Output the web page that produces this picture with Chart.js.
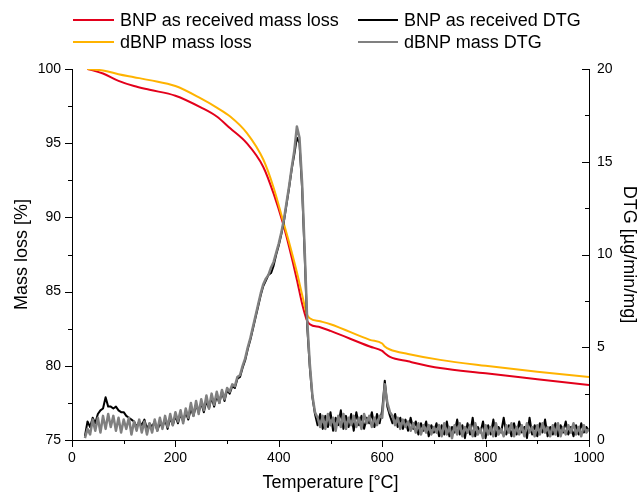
<!DOCTYPE html>
<html>
<head>
<meta charset="utf-8">
<script src="https://cdn.jsdelivr.net/npm/chart.js@4.4.1/dist/chart.umd.min.js"></script>
<style>
  html, body { margin: 0; padding: 0; background: #fff; }
  #wrap { position: relative; width: 638px; height: 495px; }
  #chart { position: absolute; left: 0; top: 0; }
  .leg { position: absolute; font: 18px "Liberation Sans", Arial, sans-serif; color: #000; line-height: 20px; white-space: nowrap; }
  .sw { position: absolute; height: 2px; }
</style>
</head>
<body>
<div id="wrap">
  <canvas id="chart" width="638" height="495"></canvas>
  <div id="legend"></div>
</div>
<script>
// temperature grid of the mass curves
const massTemps = [30, 60, 90, 120, 150, 200, 250, 280, 306, 338, 370, 390, 408, 420, 435, 445, 454, 460, 480, 500, 576, 600, 605, 615, 650, 712, 800, 900, 1000];
const bnpMass = [100, 99.7, 99.2, 98.85, 98.6, 98.2, 97.4, 96.8, 96.0, 95.0, 93.4, 91.6, 89.6, 88.0, 85.8, 84.2, 83.1, 82.8, 82.6, 82.35, 81.3, 81.0, 80.85, 80.6, 80.3, 79.85, 79.5, 79.1, 78.7];
const dbnpMass = [100, 99.9, 99.65, 99.45, 99.25, 98.85, 98.0, 97.4, 96.8, 95.7, 93.9, 92.0, 89.8, 88.3, 86.3, 84.8, 83.5, 83.2, 83.0, 82.8, 81.75, 81.5, 81.3, 81.1, 80.8, 80.4, 80.0, 79.6, 79.25];

// DTG read every 5 °C, from 25 to 1000 °C
const dtgStart = 25;
const dtgStep = 5;
const bnpDtg = [
  0.2, 1.0, 0.7, 1.2, 0.9, 1.4, 1.6, 1.7, 2.3, 1.8, 1.8, 1.7, 1.8, 1.6, 1.5, 1.5, 1.3, 1.2, 1.1, 1.0,
  0.7, 1.0, 0.8, 1.1, 0.6, 0.9, 0.7, 1.0, 0.5, 0.9, 0.7, 1.1, 0.6, 1.2, 0.8, 1.3,
  0.9, 1.4, 1.0, 1.5, 1.1, 1.7, 1.3, 1.9, 1.5, 2.0, 1.5, 2.1, 1.7, 2.3, 1.8, 2.4, 2.0, 2.6, 2.1, 2.7,
  2.5, 2.9, 2.8, 3.3, 3.4, 3.9, 4.3, 4.9, 5.4, 6.0, 6.6, 7.2, 7.8, 8.3, 8.6, 8.9, 9.0, 9.4, 10.0, 10.5,
  11.1, 11.8, 12.7, 13.6, 14.6, 15.4, 16.3, 16.0, 13.6, 10.0, 6.1, 3.9, 2.3, 1.4,
  0.8, 1.4, 0.6, 1.3, 0.7, 1.5, 0.5, 1.2, 0.8, 1.6, 0.6, 1.3, 0.7, 1.4, 0.5, 1.5, 0.8, 1.3, 0.6, 1.2,
  0.9, 1.5, 0.7, 1.4, 0.9, 1.6,
  3.2, 1.8, 1.3,
  0.9, 1.4, 0.7, 1.2, 0.6, 1.1, 0.5, 1.2, 0.6, 1.0, 0.3, 0.9, 0.5, 1.0, 0.2, 0.8, 0.4,
  0.9, 0.2, 0.8, 0.3, 1.0, 0.2, 0.7, 0.4, 1.1, 0.3, 0.8, 0.1, 0.9, 0.3, 1.2, 0.2, 0.7, 0.4, 1.0, 0.1,
  0.8, 0.3, 1.1, 0.2, 0.7, 0.4, 1.2, 0.3, 0.8, 0.2, 0.9, 0.3, 1.0, 0.4, 0.7, 0.1, 1.2, 0.3, 0.8, 0.2,
  0.9, 0.4, 1.1, 0.2, 0.7, 0.3, 0.9, 0.2, 0.8, 0.4, 1.0, 0.3, 0.7, 0.2, 0.8, 0.3, 0.9, 0.4, 0.7, 0.5
];
const dbnpDtg = [
  0.1, 0.6, 0.3, 1.1, 0.5, 1.2, 0.4, 1.3, 0.6, 1.4, 0.7, 1.3, 0.5, 1.2, 0.4, 1.1, 0.6, 1.2, 0.3, 1.0,
  0.5, 1.1, 0.4, 1.0, 0.3, 0.9, 0.4, 1.1, 0.5, 1.2, 0.6, 1.3, 0.7, 1.4, 0.8, 1.5,
  1.0, 1.6, 0.9, 1.7, 1.2, 2.0, 1.3, 2.1, 1.4, 2.2, 1.6, 2.4, 1.7, 2.5, 1.9, 2.6, 2.0, 2.7, 2.2, 2.8,
  2.6, 3.0, 2.9, 3.4, 3.5, 4.0, 4.4, 5.0, 5.5, 6.1, 6.7, 7.3, 7.9, 8.4, 8.7, 8.9, 9.3, 9.6, 10.1, 10.6,
  11.2, 11.9, 12.8, 13.7, 14.7, 15.6, 16.9, 16.3, 13.9, 10.3, 6.4, 4.1, 2.4, 1.5,
  1.2, 0.7, 1.3, 0.6, 1.4, 0.8, 1.2, 0.5, 1.3, 0.7, 1.4, 0.6, 1.2, 0.8, 1.3, 0.7, 1.2, 0.6, 1.4, 0.9,
  1.3, 0.7, 1.2, 0.8, 1.3, 1.2,
  3.0, 2.0, 1.5,
  1.3, 0.8, 1.2, 0.6, 1.1, 0.7, 1.0, 0.5, 0.9, 0.4, 0.9, 0.3, 0.8, 0.4, 0.8, 0.3, 0.7,
  0.4, 0.8, 0.2, 0.9, 0.3, 0.7, 0.1, 0.8, 0.3, 0.9, 0.2, 0.7, 0.4, 0.8, 0.2, 0.9, 0.3, 0.6, 0.1, 0.8,
  0.3, 0.7, 0.2, 0.9, 0.3, 0.6, 0.2, 0.8, 0.4, 0.9, 0.2, 0.7, 0.3, 0.8, 0.2, 0.9, 0.4, 0.7, 0.2, 0.8,
  0.3, 0.9, 0.4, 0.7, 0.2, 0.8, 0.3, 0.9, 0.2, 0.7, 0.3, 0.8, 0.4, 0.9, 0.3, 0.7, 0.2, 0.8, 0.4, 0.6
];

const seriesNames = ["BNP as received mass loss", "dBNP mass loss", "BNP as received DTG", "dBNP mass DTG"];
const seriesColors = ["#e3001b", "#ffb300", "#000000", "#808080"];

const xLabels = [0, 200, 400, 600, 800, 1000];
const massLabels = [75, 80, 85, 90, 95, 100];
const dtgLabels = [0, 5, 10, 15, 20];

const fontFam = '"Liberation Sans", Arial, sans-serif';

function pairs(xs, ys) {
  return ys.map((y, i) => ({ x: xs[i], y: y }));
}
function dtgPairs(ys) {
  return ys.map((y, i) => ({ x: dtgStart + i * dtgStep, y: y }));
}

// draws the tick marks: long ones where there is a label, short ones between
const tickMarks = {
  id: "tickMarks",
  afterDraw(chart) {
    const ctx = chart.ctx;
    ctx.save();
    ctx.strokeStyle = "#000";
    ctx.lineWidth = 1;
    for (const id of ["x", "y", "y2"]) {
      const sc = chart.scales[id];
      let labels = id == "x" ? xLabels : id == "y" ? massLabels : dtgLabels;
      sc.ticks.forEach((t) => {
        const p = Math.round(sc.getPixelForValue(t.value)) + 0.5;
        const len = labels.includes(t.value) ? 7 : 4;
        ctx.beginPath();
        if (id == "x") {
          ctx.moveTo(p, sc.top);
          ctx.lineTo(p, sc.top + len);
        } else if (id == "y") {
          ctx.moveTo(sc.right, p);
          ctx.lineTo(sc.right - len, p);
        } else {
          ctx.moveTo(sc.left, p);
          ctx.lineTo(sc.left - len, p);
        }
        ctx.stroke();
      });
    }
    ctx.restore();
  },
};

const axisGrid = { drawOnChartArea: false, drawTicks: false };
const axisBorder = { display: true, color: "#000", width: 1 };

const config = {
  type: "line",
  data: {
    datasets: [
      { label: seriesNames[0], data: pairs(massTemps, bnpMass), borderColor: seriesColors[0], borderWidth: 2, yAxisID: "y", order: 3, cubicInterpolationMode: "monotone" },
      { label: seriesNames[1], data: pairs(massTemps, dbnpMass), borderColor: seriesColors[1], borderWidth: 2, yAxisID: "y", order: 2, cubicInterpolationMode: "monotone" },
      { label: seriesNames[2], data: dtgPairs(bnpDtg), borderColor: seriesColors[2], borderWidth: 2, yAxisID: "y2", order: 1 },
      { label: seriesNames[3], data: dtgPairs(dbnpDtg), borderColor: seriesColors[3], borderWidth: 2.5, yAxisID: "y2", order: 0 },
    ],
  },
  options: {
    responsive: false,
    animation: false,
    elements: { point: { radius: 0 }, line: { borderJoinStyle: "round" } },
    layout: { padding: { top: 69, left: 0, right: 0, bottom: 0 } },
    plugins: { legend: { display: false }, tooltip: { enabled: false } },
    scales: {
      x: {
        type: "linear",
        min: 0,
        max: 1000,
        grid: axisGrid,
        border: axisBorder,
        ticks: {
          stepSize: 100,
          autoSkip: false,
          maxRotation: 0,
          padding: 10,
          color: "#000",
          font: { family: fontFam, size: 14 },
          callback: (v) => (xLabels.includes(v) ? v : ""),
        },
        title: { display: true, text: "Temperature [°C]", color: "#000", font: { family: fontFam, size: 18, lineHeight: 1 }, padding: { top: 0, bottom: 3 } },
        afterFit(sc) { sc.height = 55; },
      },
      y: {
        position: "left",
        min: 75,
        max: 100,
        grid: axisGrid,
        border: axisBorder,
        ticks: {
          stepSize: 2.5,
          autoSkip: false,
          padding: 11,
          color: "#000",
          font: { family: fontFam, size: 14 },
          callback: (v) => (massLabels.includes(v) ? v : ""),
        },
        title: { display: true, text: "Mass loss [%]", color: "#000", font: { family: fontFam, size: 18, lineHeight: 1 }, padding: { top: 13, bottom: 0 } },
        afterFit(sc) { sc.width = 72; },
      },
      y2: {
        position: "right",
        min: 0,
        max: 20,
        grid: axisGrid,
        border: axisBorder,
        ticks: {
          stepSize: 2.5,
          autoSkip: false,
          padding: 8,
          color: "#000",
          font: { family: fontFam, size: 14 },
          callback: (v) => (dtgLabels.includes(v) ? v : ""),
        },
        title: { display: true, text: "DTG [µg/min/mg]", color: "#000", font: { family: fontFam, size: 18, lineHeight: 1 }, padding: { top: 0, bottom: 0 } },
        afterFit(sc) { sc.width = 49; },
      },
    },
  },
  plugins: [tickMarks],
};

let myChart = new Chart(document.getElementById("chart"), config);

// legend in two columns, like the original
const legendSpots = [
  { swatch: 73, text: 120, row: 20 },
  { swatch: 73, text: 120, row: 42 },
  { swatch: 358, text: 404, row: 20 },
  { swatch: 358, text: 404, row: 42 },
];
const legendBox = document.getElementById("legend");
seriesNames.forEach((name, i) => {
  const spot = legendSpots[i];
  const sw = document.createElement("div");
  sw.className = "sw";
  sw.style.left = spot.swatch + "px";
  sw.style.width = spot.text - spot.swatch - 6 + "px";
  sw.style.top = spot.row - 1 + "px";
  sw.style.background = seriesColors[i];
  legendBox.appendChild(sw);

  const tx = document.createElement("div");
  tx.className = "leg";
  tx.style.left = spot.text + "px";
  tx.style.top = spot.row - 10 + "px";
  tx.textContent = name;
  legendBox.appendChild(tx);
});
</script>
</body>
</html>
